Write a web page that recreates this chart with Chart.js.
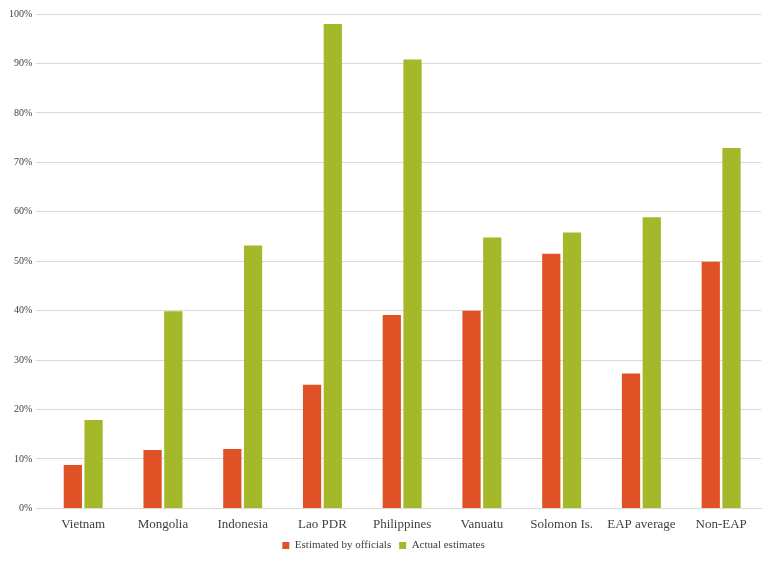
<!DOCTYPE html>
<html><head><script src="https://cdn.jsdelivr.net/npm/chart.js"></script>
<style>body{margin:0;background:#fff}#w{width:771px;height:561px}</style></head>
<body><div id="w"><canvas id="c"></canvas></div>
<script>
const categories=["Vietnam","Mongolia","Indonesia","Lao PDR","Philippines","Vanuatu","Solomon Is.","EAP average","Non-EAP"];
const officials=[8.8,11.8,12,25,39.1,40,51.5,27.3,49.9];
const actual=[17.9,39.9,53.2,98,90.8,54.8,55.8,58.9,72.9];
new Chart(document.getElementById('c'),{type:'bar',
data:{labels:categories,datasets:[
{label:'Estimated by officials',data:officials,backgroundColor:'#E05226'},
{label:'Actual estimates',data:actual,backgroundColor:'#A5B82A'}]},
options:{responsive:true,maintainAspectRatio:false,animation:false,
layout:{padding:{left:6,right:10,top:14,bottom:0}},
datasets:{bar:{categoryPercentage:0.52,barPercentage:0.88}},
plugins:{legend:{position:'bottom',labels:{boxWidth:7,boxHeight:7,padding:8,font:{family:'Liberation Serif',size:11},color:'#404040'}},tooltip:{enabled:false}},
scales:{x:{grid:{display:false},border:{color:'#d9d9d9'},ticks:{padding:0,font:{family:'Liberation Serif',size:13},color:'#404040'}},
y:{min:0,max:100,ticks:{stepSize:10,callback:v=>v+'%',font:{family:'Liberation Serif',size:10},color:'#404040'},grid:{color:'#d9d9d9'},border:{display:false}}}}});
</script></body></html>
